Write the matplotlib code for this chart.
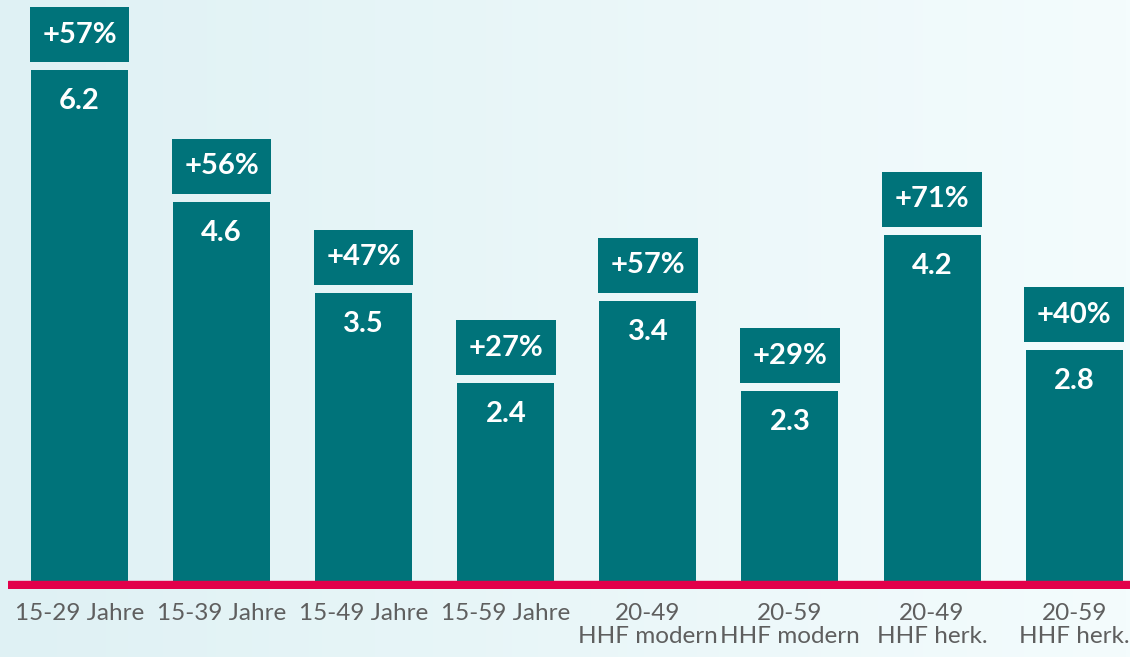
import matplotlib
matplotlib.use('Agg')
from matplotlib import pyplot as plt
import numpy as np

categories = ['15-29 Jahre', '15-39 Jahre', '15-49 Jahre', '15-59 Jahre',
              '20-49\nHHF modern', '20-59\nHHF modern', '20-49\nHHF herk.', '20-59\nHHF herk.']
values = [6.2, 4.6, 3.5, 2.4, 3.4, 2.3, 4.2, 2.8]
changes = ['+57%', '+56%', '+47%', '+27%', '+57%', '+29%', '+71%', '+40%']

teal = '#00737a'
red = '#e2004a'
plt.rcParams['font.family'] = ['Lato', 'DejaVu Sans']

fig = plt.figure(figsize=(11.3, 6.57), dpi=100)

# background gradient, light cyan on the left to almost white on the right
bg = fig.add_axes([0, 0, 1, 1], zorder=0)
grad = np.linspace(0, 1, 256).reshape(1, -1)
c0 = np.array([223, 241, 244]) / 255
c1 = np.array([244, 252, 253]) / 255
img = c0[None, None, :] * (1 - grad[..., None]) + c1[None, None, :] * grad[..., None]
bg.imshow(img, aspect='auto', extent=[0, 1, 0, 1])
bg.axis('off')

ax = fig.add_axes([8 / 1130, 68 / 657, 1 - 8 / 1130, 1 - 68 / 657], zorder=1)
ax.patch.set_alpha(0)
px = 1 / 82.4  # data units per pixel
x = np.arange(len(values))
ax.bar(x, values, width=0.683, color=teal, zorder=2)
ax.set_xlim(-0.503, 7.393)
ax.set_ylim(-8 * px, 581 * px)

# red baseline
ax.axhspan(-8 * px, 0, color=red, zorder=3)

for i in range(len(values)):
    ax.text(x[i], values[i] - 31 * px, str(values[i]), color='white',
            fontsize=21, fontweight='bold', ha='center', va='center', zorder=4)
    ax.bar(x[i], 55 * px, bottom=values[i] + 8 * px, width=0.70, color=teal, zorder=2)
    ax.text(x[i], values[i] + 8 * px + 27.5 * px, changes[i], color='white',
            fontsize=21, fontweight='bold', ha='center', va='center', zorder=4)

ax.set_xticks(x)
ax.set_xticklabels(categories, fontsize=17.5, color='#5f5f5f', linespacing=1.1)
ax.tick_params(axis='x', length=0, pad=10)
ax.set_yticks([])
for s in ax.spines.values():
    s.set_visible(False)

fig.savefig('out.png', dpi=100)
